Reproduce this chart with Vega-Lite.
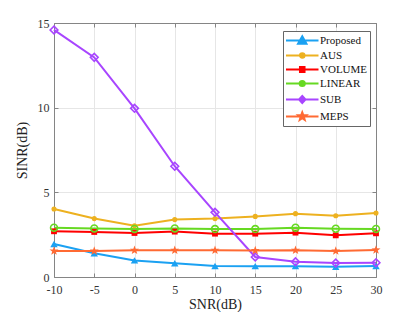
{
  "$schema": "https://vega.github.io/schema/vega-lite/v6.json",
  "width": 322,
  "height": 254,
  "autosize": {"type": "none"},
  "padding": {"left": 54, "top": 23, "right": 39, "bottom": 35},
  "background": "white",
  "config": {
    "view": {"stroke": null},
    "font": "Liberation Serif",
    "axis": {
      "labelFont": "Liberation Serif",
      "labelFontSize": 12,
      "labelColor": "#333333",
      "labelFlush": false,
      "titleFont": "Liberation Serif",
      "titleFontSize": 14,
      "titleFontWeight": "normal",
      "titleColor": "#222222",
      "domainColor": "#858585",
      "tickColor": "#858585",
      "gridColor": "#e6e6e6",
      "gridOpacity": 1
    },
    "legend": {"labelFont": "Liberation Serif"}
  },
  "data": {
    "values": [
      {"snr": -10, "sinr": 1.95, "method": "Proposed"},
      {"snr": -5, "sinr": 1.4, "method": "Proposed"},
      {"snr": 0, "sinr": 0.98, "method": "Proposed"},
      {"snr": 5, "sinr": 0.81, "method": "Proposed"},
      {"snr": 10, "sinr": 0.65, "method": "Proposed"},
      {"snr": 15, "sinr": 0.64, "method": "Proposed"},
      {"snr": 20, "sinr": 0.64, "method": "Proposed"},
      {"snr": 25, "sinr": 0.6, "method": "Proposed"},
      {"snr": 30, "sinr": 0.65, "method": "Proposed"},
      {"snr": -10, "sinr": 4.02, "method": "AUS"},
      {"snr": -5, "sinr": 3.45, "method": "AUS"},
      {"snr": 0, "sinr": 3.03, "method": "AUS"},
      {"snr": 5, "sinr": 3.39, "method": "AUS"},
      {"snr": 10, "sinr": 3.45, "method": "AUS"},
      {"snr": 15, "sinr": 3.58, "method": "AUS"},
      {"snr": 20, "sinr": 3.74, "method": "AUS"},
      {"snr": 25, "sinr": 3.62, "method": "AUS"},
      {"snr": 30, "sinr": 3.78, "method": "AUS"},
      {"snr": -10, "sinr": 2.7, "method": "VOLUME"},
      {"snr": -5, "sinr": 2.66, "method": "VOLUME"},
      {"snr": 0, "sinr": 2.6, "method": "VOLUME"},
      {"snr": 5, "sinr": 2.68, "method": "VOLUME"},
      {"snr": 10, "sinr": 2.56, "method": "VOLUME"},
      {"snr": 15, "sinr": 2.56, "method": "VOLUME"},
      {"snr": 20, "sinr": 2.62, "method": "VOLUME"},
      {"snr": 25, "sinr": 2.46, "method": "VOLUME"},
      {"snr": 30, "sinr": 2.58, "method": "VOLUME"},
      {"snr": -10, "sinr": 2.91, "method": "LINEAR"},
      {"snr": -5, "sinr": 2.87, "method": "LINEAR"},
      {"snr": 0, "sinr": 2.84, "method": "LINEAR"},
      {"snr": 5, "sinr": 2.87, "method": "LINEAR"},
      {"snr": 10, "sinr": 2.83, "method": "LINEAR"},
      {"snr": 15, "sinr": 2.83, "method": "LINEAR"},
      {"snr": 20, "sinr": 2.91, "method": "LINEAR"},
      {"snr": 25, "sinr": 2.85, "method": "LINEAR"},
      {"snr": 30, "sinr": 2.84, "method": "LINEAR"},
      {"snr": -10, "sinr": 14.59, "method": "SUB"},
      {"snr": -5, "sinr": 12.97, "method": "SUB"},
      {"snr": 0, "sinr": 9.96, "method": "SUB"},
      {"snr": 5, "sinr": 6.54, "method": "SUB"},
      {"snr": 10, "sinr": 3.82, "method": "SUB"},
      {"snr": 15, "sinr": 1.18, "method": "SUB"},
      {"snr": 20, "sinr": 0.9, "method": "SUB"},
      {"snr": 25, "sinr": 0.83, "method": "SUB"},
      {"snr": 30, "sinr": 0.84, "method": "SUB"},
      {"snr": -10, "sinr": 1.54, "method": "MEPS"},
      {"snr": -5, "sinr": 1.54, "method": "MEPS"},
      {"snr": 0, "sinr": 1.58, "method": "MEPS"},
      {"snr": 5, "sinr": 1.58, "method": "MEPS"},
      {"snr": 10, "sinr": 1.58, "method": "MEPS"},
      {"snr": 15, "sinr": 1.56, "method": "MEPS"},
      {"snr": 20, "sinr": 1.58, "method": "MEPS"},
      {"snr": 25, "sinr": 1.54, "method": "MEPS"},
      {"snr": 30, "sinr": 1.6, "method": "MEPS"}
    ]
  },
  "resolve": {"axis": {"x": "independent", "y": "independent"}},
  "layer": [
    {
      "mark": {"type": "line", "strokeWidth": 2},
      "encoding": {
        "x": {
          "field": "snr", "type": "quantitative",
          "scale": {"domain": [-10, 30], "nice": false, "zero": false},
          "axis": {"values": [-10, -5, 0, 5, 10, 15, 20, 25, 30], "labelExpr": "'' + datum.value", "title": "SNR(dB)", "tickSize": -4, "labelPadding": 11, "titlePadding": 2, "grid": true}
        },
        "y": {
          "field": "sinr", "type": "quantitative",
          "scale": {"domain": [0, 15], "nice": false, "zero": false},
          "axis": {"values": [0, 5, 10, 15], "title": "SINR(dB)", "tickSize": -4, "labelPadding": 9, "titlePadding": 8, "grid": true}
        },
        "color": {
          "field": "method", "type": "nominal",
          "scale": {
            "domain": ["Proposed", "AUS", "VOLUME", "LINEAR", "SUB", "MEPS"],
            "range": ["#1ba1f2", "#edb120", "#ff0000", "#66d922", "#a845ff", "#ff6a33"]
          },
          "legend": {
            "title": null,
            "orient": "none",
            "legendX": 229,
            "legendY": 8,
            "padding": 2,
            "strokeColor": "#666666",
            "fillColor": "white",
            "symbolSize": 169,
            "labelOffset": 20,
            "rowPadding": 0,
            "labelFont": "Liberation Serif",
            "labelFontSize": 11,
            "labelColor": "#111111",
            "encode": {
              "symbols": {
                "update": {
                  "shape": {"signal": "datum.value === 'Proposed' ? 'M-1,0H4M1.5,-0.65L2.15,0.5L0.85,0.5Z' : datum.value === 'AUS' ? 'M-1,0H4M1.85,0A0.35,0.35,0,1,1,1.15,0A0.35,0.35,0,1,1,1.85,0Z' : datum.value === 'VOLUME' ? 'M-1,0H4M1.15,-0.38H1.85V0.38H1.15Z' : datum.value === 'LINEAR' ? 'M-1,0H4M1.9,0A0.4,0.4,0,1,1,1.1,0A0.4,0.4,0,1,1,1.9,0Z' : datum.value === 'SUB' ? 'M-1,0H4M1.5,-0.55L2,0L1.5,0.55L1,0Z' : 'M-1,0H4M1.5,-0.65L1.659,-0.218L2.118,-0.201L1.757,0.083L1.882,0.526L1.5,0.27L1.118,0.526L1.243,0.083L0.882,-0.201L1.341,-0.218Z'"},
                  "stroke": {"scale": "color", "field": "value"},
                  "fill": {"signal": "(datum.value === 'LINEAR' || datum.value === 'SUB') ? 'transparent' : scale('color', datum.value)"},
                  "strokeWidth": {"value": 2},
                  "opacity": {"value": 1},
                  "size": {"value": 169}
                }
              }
            }
          }
        }
      }
    },
    {
      "transform": [{"filter": "datum.method === 'Proposed'"}],
      "mark": {"type": "point", "filled": true, "opacity": 1, "shape": "triangle-up", "size": 55},
      "encoding": {
        "x": {"field": "snr", "type": "quantitative", "axis": null},
        "y": {"field": "sinr", "type": "quantitative", "axis": null},
        "color": {"field": "method", "type": "nominal", "legend": null}
      }
    },
    {
      "transform": [{"filter": "datum.method === 'AUS'"}],
      "mark": {"type": "point", "filled": true, "opacity": 1, "shape": "circle", "size": 26},
      "encoding": {
        "x": {"field": "snr", "type": "quantitative", "axis": null},
        "y": {"field": "sinr", "type": "quantitative", "axis": null},
        "color": {"field": "method", "type": "nominal", "legend": null}
      }
    },
    {
      "transform": [{"filter": "datum.method === 'VOLUME'"}],
      "mark": {"type": "point", "filled": true, "opacity": 1, "shape": "square", "size": 34},
      "encoding": {
        "x": {"field": "snr", "type": "quantitative", "axis": null},
        "y": {"field": "sinr", "type": "quantitative", "axis": null},
        "color": {"field": "method", "type": "nominal", "legend": null}
      }
    },
    {
      "transform": [{"filter": "datum.method === 'LINEAR'"}],
      "mark": {"type": "point", "filled": false, "opacity": 1, "shape": "circle", "size": 48, "strokeWidth": 1.6, "fill": "transparent"},
      "encoding": {
        "x": {"field": "snr", "type": "quantitative", "axis": null},
        "y": {"field": "sinr", "type": "quantitative", "axis": null},
        "color": {"field": "method", "type": "nominal", "legend": null}
      }
    },
    {
      "transform": [{"filter": "datum.method === 'SUB'"}],
      "mark": {"type": "point", "filled": false, "opacity": 1, "shape": "diamond", "size": 60, "strokeWidth": 1.6, "fill": "transparent"},
      "encoding": {
        "x": {"field": "snr", "type": "quantitative", "axis": null},
        "y": {"field": "sinr", "type": "quantitative", "axis": null},
        "color": {"field": "method", "type": "nominal", "legend": null}
      }
    },
    {
      "transform": [{"filter": "datum.method === 'MEPS'"}],
      "mark": {"type": "point", "filled": true, "opacity": 1, "shape": "M0,-1L0.235,-0.324L0.951,-0.309L0.38,0.124L0.588,0.809L0,0.415L-0.588,0.809L-0.38,0.124L-0.951,-0.309L-0.235,-0.324Z", "size": 90},
      "encoding": {
        "x": {"field": "snr", "type": "quantitative", "axis": {"orient": "top", "values": [-10, -5, 0, 5, 10, 15, 20, 25, 30], "labels": false, "title": null, "tickSize": -4, "grid": false}},
        "y": {"field": "sinr", "type": "quantitative", "axis": {"orient": "right", "values": [0, 5, 10, 15], "labels": false, "title": null, "tickSize": -4, "grid": false}},
        "color": {"field": "method", "type": "nominal", "legend": null}
      }
    }
  ]
}
